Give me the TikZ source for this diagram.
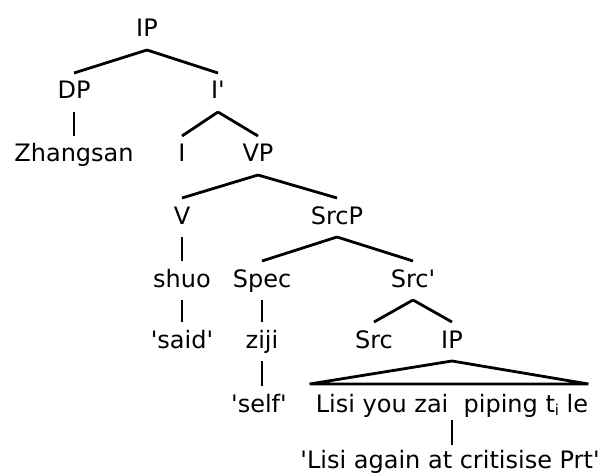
\documentclass[tikz,border=0pt]{standalone}
\usepackage{fontspec}
\setmainfont{DejaVu Sans}
\usetikzlibrary{calc}
\newcommand{\q}{\textquotesingle}
\begin{document}
\begin{tikzpicture}[x=1pt,y=-1pt,
  lab/.style={inner sep=0pt,anchor=base,font=\fontsize{24}{28}\selectfont},
  br/.style={line width=2.8pt}]
\useasboundingbox (0,0) rectangle (608,476);
% rows (baselines)
\node[lab] (ip)   at (147,37)  {IP};
\node[lab] (dp)   at (74,99)   {DP};
\node[lab] (ib)   at (218,99)  {I\q};
\node[lab] (zh)   at (74,162)  {Zhangsan};
\node[lab] (i)    at (182,162) {I};
\node[lab] (vp)   at (258,162) {VP};
\node[lab] (v)    at (182,224) {V};
\node[lab] (srcp) at (337,224) {SrcP};
\node[lab] (shuo) at (182,287) {shuo};
\node[lab] (spec) at (262,287) {Spec};
\node[lab] (srcb) at (413,287) {Src\q};
\node[lab] (said) at (182,348) {\q said\q};
\node[lab] (ziji) at (262,348) {ziji};
\node[lab] (src)  at (374,348) {Src};
\node[lab] (ipb)  at (452,348) {IP};
\node[lab] (self) at (259,412) {\q self\q};
\node[lab] (lisi) at (452,412) {Lisi you zai\ \ piping t\raisebox{-3pt}{\fontsize{15}{15}\selectfont i} le};
\node[lab] (gl)   at (450,468) {\q Lisi again at critisise Prt\q};
% branches
\newcommand{\edg}[2]{\draw[br] ($(#1.base)+(0,13)$) -- ($(#2.base)+(0,-26)$);}
\newcommand{\vedg}[3]{\draw[br] ($(#1.base -| #3.base)+(0,13)$) -- ($(#2.base -| #3.base)+(0,-26)$);}
\edg{ip}{dp}\edg{ip}{ib}
\vedg{dp}{zh}{dp}
\edg{ib}{i}\edg{ib}{vp}
\edg{vp}{v}\edg{vp}{srcp}
\vedg{v}{shuo}{v}
\edg{srcp}{spec}\edg{srcp}{srcb}
\vedg{shuo}{said}{shuo}\vedg{spec}{ziji}{spec}
\edg{srcb}{src}\edg{srcb}{ipb}
\vedg{ziji}{self}{ziji}
\draw[br,line join=miter] ($(ipb.base)+(0,13)$) -- ($(lisi.base west)+(-6,-28)$) -- ($(lisi.base east)+(0,-28)$) -- cycle;
\draw[br] ($(lisi.base)+(0,8)$) -- ($(gl.base -| lisi.base)+(0,-23)$);
\end{tikzpicture}
\end{document}
